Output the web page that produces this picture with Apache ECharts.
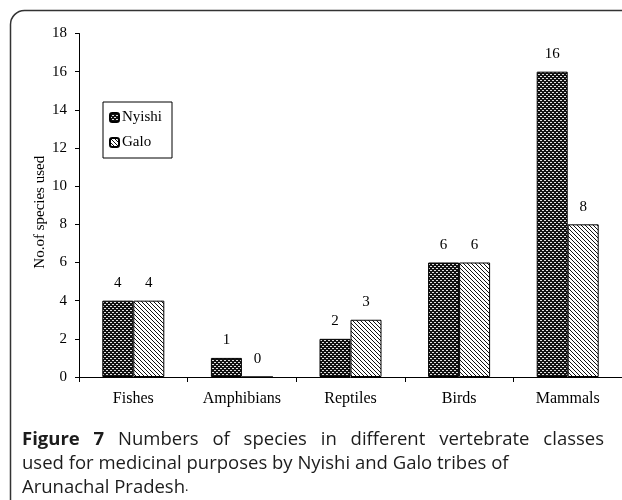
<!DOCTYPE html>
<html>
<head>
<meta charset="utf-8">
<script src="https://cdn.jsdelivr.net/npm/echarts@6/dist/echarts.min.js"></script>
<style>
html,body{margin:0;padding:0;background:#fff;}
#chart{width:622px;height:500px;}
</style>
</head>
<body>
<div id="chart"></div>
<script>
const categories = ['Fishes', 'Amphibians', 'Reptiles', 'Birds', 'Mammals'];
const nyishi = [4, 1, 2, 6, 16];
const galo = [4, 0, 3, 6, 8];
const seriesNames = ['Nyishi', 'Galo'];
const yAxisName = 'No.of species used';
const captionBold = 'Figure 7';
const captionLines = [
  'Numbers of species in different vertebrate classes',
  'used for medicinal purposes by Nyishi and Galo tribes of',
  'Arunachal Pradesh'
];

function makeDots() {
  const c = document.createElement('canvas');
  c.width = 4; c.height = 4;
  const g = c.getContext('2d');
  g.fillStyle = '#111';
  g.fillRect(0, 0, 4, 4);
  g.fillStyle = '#e0e0e0';
  g.fillRect(0, 0, 2, 1);
  g.fillRect(2, 2, 2, 1);
  return c;
}
function makeHatch() {
  const c = document.createElement('canvas');
  c.width = 4; c.height = 4;
  const g = c.getContext('2d');
  g.fillStyle = '#fff';
  g.fillRect(0, 0, 4, 4);
  g.fillStyle = '#111';
  for (let i = 0; i < 4; i++) g.fillRect(i, i, 1, 1);
  return c;
}
const dotPattern = { image: makeDots(), repeat: 'repeat' };
const hatchPattern = { image: makeHatch(), repeat: 'repeat' };

const serif = 'Liberation Serif';
const capFont = 'Open Sans';
const capSize = 18.5;
const capColor = '#1c1c1c';

// Justified first caption line: measure words, spread them across the caption width.
const measureCtx = document.createElement('canvas').getContext('2d');
function textW(t, bold) {
  measureCtx.font = (bold ? 'bold ' : '') + capSize + 'px "' + capFont + '"';
  return measureCtx.measureText(t).width;
}
const capLeft = 22, capRight = 604;
const words = captionBold.split(' ').map(w => ({ t: w, b: true }))
  .concat(captionLines[0].split(' ').map(w => ({ t: w, b: false })));
const totalW = words.reduce((s, w) => s + textW(w.t, w.b), 0);
const gapW = Math.max(4, (capRight - capLeft - totalW) / (words.length - 1));
const captionGraphics = [];
let cx = capLeft;
words.forEach(w => {
  captionGraphics.push({
    type: 'text', x: cx, y: 430,
    style: { text: w.t, fontFamily: capFont, fontWeight: w.b ? 'bold' : 'normal', fontSize: capSize, fill: capColor }
  });
  cx += textW(w.t, w.b) + gapW;
});
captionGraphics.push({
  type: 'text', x: capLeft, y: 454,
  style: { text: captionLines[1], fontFamily: capFont, fontSize: capSize, fill: capColor }
});
captionGraphics.push({
  type: 'text', x: capLeft, y: 478,
  style: {
    text: '{n|' + captionLines[2] + '}{s|.}',
    rich: {
      n: { fontFamily: capFont, fontSize: capSize, fill: capColor },
      s: { fontFamily: capFont, fontSize: 13, fill: capColor }
    }
  }
});

const chart = echarts.init(document.getElementById('chart'), null, { renderer: 'canvas' });
chart.setOption({
  backgroundColor: '#fff',
  animation: false,
  grid: { left: 79, top: 33.5, width: 545, bottom: 123 },
  legend: {
    left: 103, top: 102,
    orient: 'vertical',
    itemWidth: 9, itemHeight: 9, itemGap: 10,
    padding: [8, 10, 8, 6],
    borderColor: '#000', borderWidth: 1,
    backgroundColor: '#fff',
    textStyle: { fontFamily: serif, fontSize: 15, color: '#000', padding: [0, 0, 0, -2] },
    data: seriesNames
  },
  xAxis: {
    type: 'category',
    data: categories,
    axisLine: { lineStyle: { color: '#000', width: 1 } },
    axisTick: { show: true, alignWithLabel: false, length: 5, lineStyle: { color: '#000' } },
    axisLabel: { fontFamily: serif, fontSize: 16, color: '#000', margin: 14 }
  },
  yAxis: {
    type: 'value',
    min: 0, max: 18, interval: 2,
    name: yAxisName,
    nameLocation: 'middle',
    nameGap: 31,
    nameMoveOverlap: false,
    nameTextStyle: { fontFamily: serif, fontSize: 15, color: '#000', padding: [0, 14, 0, 0] },
    axisLine: { show: true, lineStyle: { color: '#000', width: 1 } },
    axisTick: { show: true, length: 4, lineStyle: { color: '#000' } },
    axisLabel: { fontFamily: serif, fontSize: 15, color: '#000', margin: 12 },
    splitLine: { show: false }
  },
  series: [
    {
      name: seriesNames[0], type: 'bar', data: nyishi,
      barWidth: 31, barGap: '0%',
      itemStyle: { color: dotPattern, borderColor: '#000', borderWidth: 1 },
      label: { show: true, position: 'top', distance: 10, fontFamily: serif, fontSize: 15, color: '#000' }
    },
    {
      name: seriesNames[1], type: 'bar', data: galo,
      barWidth: 31, barGap: '0%',
      itemStyle: { color: hatchPattern, borderColor: '#000', borderWidth: 1 },
      label: { show: true, position: 'top', distance: 10, fontFamily: serif, fontSize: 15, color: '#000' }
    }
  ],
  graphic: [
    {
      type: 'rect', z: -1, silent: true,
      shape: { x: 10.5, y: 10.5, width: 700, height: 600, r: 14 },
      style: { fill: 'none', stroke: '#333', lineWidth: 1.5 }
    }
  ].concat(captionGraphics)
});
</script>
</body>
</html>
